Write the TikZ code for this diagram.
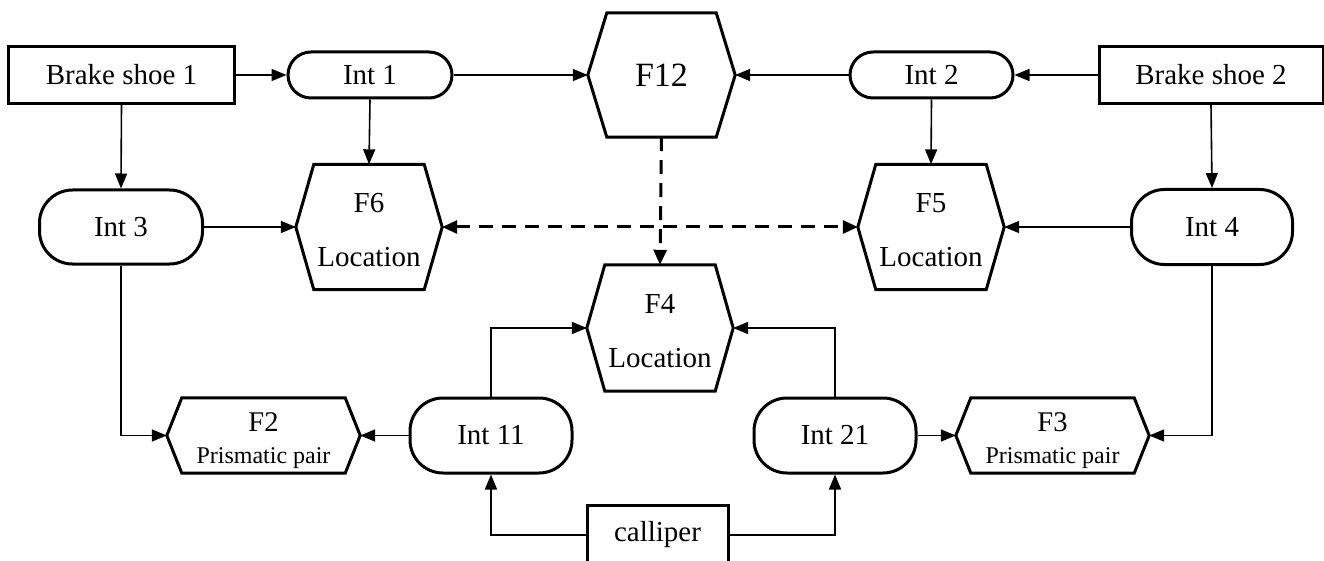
\documentclass[tikz,border=0pt]{standalone}
\usepackage{fontspec}
\setmainfont{Liberation Serif}
\usetikzlibrary{arrows.meta}

% outline of a hexagonal node: tips at west/east, flat top and bottom
\newcommand{\hexframe}[2]{%
  \draw[frame] (#1.west) -- ([xshift=#2]#1.north west) -- ([xshift=-#2]#1.north east)
    -- (#1.east) -- ([xshift=-#2]#1.south east) -- ([xshift=#2]#1.south west) -- cycle;}
% invisible strut that lowers a two-line label a little
\newcommand{\lift}[1]{\rule{0pt}{#1}}

\begin{document}
\begin{tikzpicture}[x=1pt,y=-1pt,
  frame/.style={line width=3pt,line join=miter},
  base/.style={inner sep=0pt,font=\fontsize{29}{34}\selectfont},
  block/.style={base,draw,frame,rectangle},
  pill/.style={base,draw,frame,rounded corners=#1},
  pill/.default=23pt,
  hexa/.style={base,rectangle,align=center},
  loc/.style={hexa,font=\fontsize{29}{54}\selectfont},
  conn/.style={line width=1.6pt,-{Triangle[length=15pt,width=12pt]}},
  dashconn/.style={line width=3pt,dash pattern=on 14pt off 9pt,
    -{Triangle[length=15pt,width=13pt]}},
]
\useasboundingbox (0,0) rectangle (1324,561);

% top row
\node[block,minimum width=226pt,minimum height=57pt] (bs1) at (121.5,75) {Brake shoe 1};
\node[pill,minimum width=164pt,minimum height=46pt] (int1) at (370,75) {Int 1};
\node[hexa,minimum width=147pt,minimum height=124pt,font=\fontsize{34}{40}\selectfont] (f12) at (661.5,75) {F12};
\node[pill,minimum width=163pt,minimum height=46pt] (int2) at (931.5,75) {Int 2};
\node[block,minimum width=224pt,minimum height=57pt] (bs2) at (1211,75) {Brake shoe 2};

% middle row
\node[pill=33pt,minimum width=163pt,minimum height=74pt] (int3) at (121,227) {Int 3};
\node[loc,minimum width=146pt,minimum height=125pt] (f6) at (369,227) {\lift{26pt}F6\\Location};
\node[loc,minimum width=146pt,minimum height=125pt] (f5) at (931,227) {\lift{26pt}F5\\Location};
\node[pill=33pt,minimum width=161pt,minimum height=75pt] (int4) at (1212,227) {Int 4};
\node[loc,minimum width=146pt,minimum height=126pt] (f4) at (660,328) {\lift{26pt}F4\\Location};

% bottom row
\node[hexa,minimum width=193pt,minimum height=75pt] (f2) at (263.5,435.5)
  {\fontsize{28.5}{30}\selectfont\lift{29pt}F2\\[-2pt]\fontsize{24}{28}\selectfont Prismatic pair};
\node[pill=33pt,minimum width=162pt,minimum height=75pt] (int11) at (491,435.5) {Int 11};
\node[pill=33pt,minimum width=162pt,minimum height=75pt] (int21) at (835,435.5) {Int 21};
\node[hexa,minimum width=193pt,minimum height=75pt] (f3) at (1052.5,435.5)
  {\fontsize{28.5}{30}\selectfont\lift{29pt}F3\\[-2pt]\fontsize{24}{28}\selectfont Prismatic pair};
\node[block,minimum width=141pt,minimum height=60pt] (cal) at (657.5,535) {calliper};

% hexagon outlines
\hexframe{f12}{19pt}
\hexframe{f6}{18pt}
\hexframe{f5}{18pt}
\hexframe{f4}{18pt}
\hexframe{f2}{15pt}
\hexframe{f3}{15pt}

% connectors
\draw[conn] (bs1.east) -- (int1.west);
\draw[conn] (int1.east) -- (f12.west);
\draw[conn] (int2.west) -- (f12.east);
\draw[conn] (bs2.west) -- (int2.east);
\draw[conn] (int1.south) -- (f6.north);
\draw[conn] (int2.south) -- (f5.north);
\draw[conn] (bs1.south) -- (int3.north);
\draw[conn] (bs2.south) -- (int4.north);
\draw[conn] (int3.east) -- (f6.west);
\draw[conn] (int4.west) -- (f5.east);
\draw[conn] (int3.south) |- (f2.west);
\draw[conn] (int4.south) |- (f3.east);
\draw[conn] (int11.north) |- (f4.west);
\draw[conn] (int21.north) |- (f4.east);
\draw[conn] (int11.west) -- (f2.east);
\draw[conn] (int21.east) -- (f3.west);
\draw[conn] (cal.west) -| (int11.south);
\draw[conn] (cal.east) -| (int21.south);

% dashed links
\draw[dashconn] (f12.south) -- (f4.north);
\draw[dashconn,{Triangle[length=15pt,width=13pt]}-{Triangle[length=15pt,width=13pt]}] (f6.east) -- (f5.west);
\end{tikzpicture}
\end{document}
